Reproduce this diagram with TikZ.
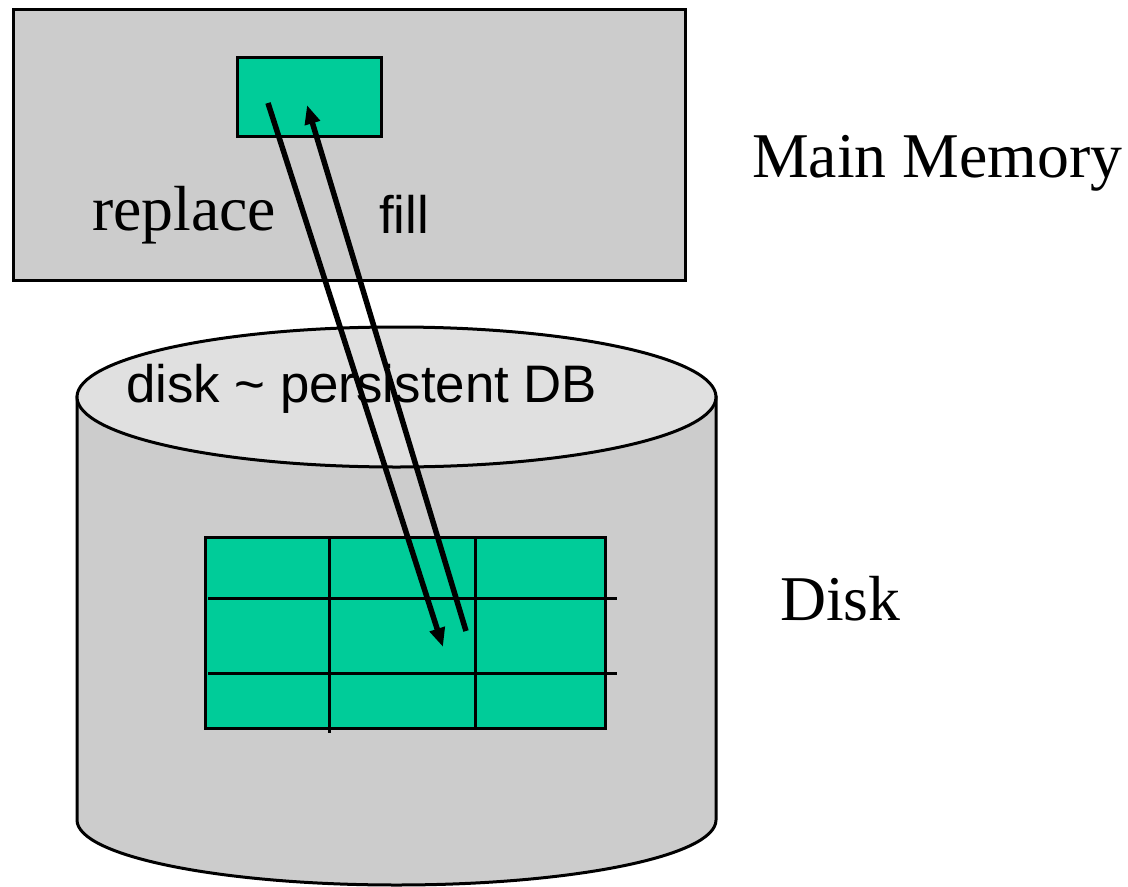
\documentclass[tikz,border=0pt]{standalone}
\usepackage{fontspec}
\setmainfont{Liberation Serif}
\setsansfont{Liberation Sans}
\usetikzlibrary{arrows.meta}
\definecolor{boxgray}{HTML}{CCCCCC}
\definecolor{topgray}{HTML}{E0E0E0}
\definecolor{pagegreen}{HTML}{00CC99}
\tikzset{
  membox/.style={draw=black, line width=3bp, fill=boxgray, inner sep=0pt, anchor=north west},
  pagebox/.style={draw=black, line width=3bp, fill=pagegreen, inner sep=0pt, anchor=north west},
  gridline/.style={line width=3bp},
  xfer/.style={line width=5.5bp, -{Triangle[length=19bp,width=15bp]}},
  serif/.style={font=\rmfamily\fontsize{64}{70}\selectfont, inner sep=0pt, anchor=base west},
  sans/.style={font=\sffamily\fontsize{53}{60}\selectfont, inner sep=0pt, anchor=base west},
}
\begin{document}
\begin{tikzpicture}[x=1bp, y=-1bp]
\useasboundingbox (0,0) rectangle (1128,887);

% main memory with one buffer page
\node[membox, minimum width=672bp, minimum height=271bp] (mem) at (12,8) {};
\node[pagebox, minimum width=144bp, minimum height=79bp] (buf) at (236,56) {};

% disk cylinder: body, then lighter top face
\draw[line width=3bp, fill=boxgray]
  (77,397) -- (77,820)
  arc[start angle=180, end angle=360, x radius=319.5bp, y radius=65bp]
  -- (716,397) -- cycle;
\draw[line width=3bp, fill=topgray] (396.5,397) ellipse[x radius=319.5bp, y radius=70bp];

% database pages on disk
\node[pagebox, minimum width=400bp, minimum height=191bp] (db) at (204,536) {};
\draw[gridline] (208,598) -- (617,598);
\draw[gridline] (208,673) -- (617,673);
\draw[gridline] (329,536) -- (329,733);
\draw[gridline] (475,536) -- (475,727);

% labels
\node[serif] (lmm) at (752,177) {Main Memory};
\node[serif] (ldisk) at (780,620) {Disk};
\node[serif] (lrep) at (92,230) {replace};
\node[sans] (lfill) at (379,233) {fill};
\node[sans] (ldb) at (126,402) {disk \char`\~{} persistent DB};

% page transfers between buffer and disk
\coordinate (repS) at (268,103);
\coordinate (repE) at (443,647);
\coordinate (fillS) at (466,631);
\coordinate (fillE) at (307,105);
\draw[xfer] (repS) -- (repE);
\draw[xfer] (fillS) -- (fillE);
\end{tikzpicture}
\end{document}
